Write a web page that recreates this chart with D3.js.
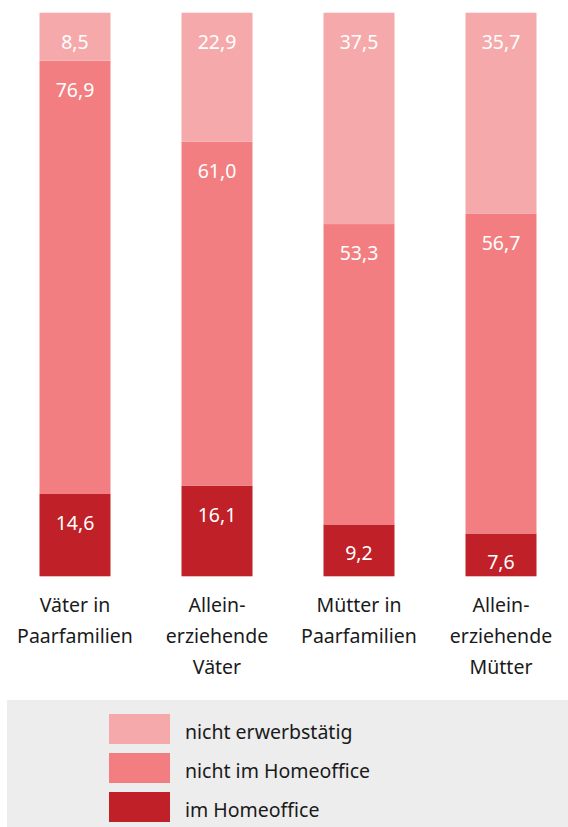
<!DOCTYPE html>
<html>
<head>
<meta charset="utf-8">
<script src="https://d3js.org/d3.v7.min.js"></script>
<style>
  body { margin: 0; background: #fff; }
  text { font-family: "Noto Sans", sans-serif; }
  .inside { font-size: 19.5px; fill: white; text-anchor: middle; }
  .cat { font-size: 19.5px; fill: #1a1a1a; text-anchor: middle; }
  .leg { font-size: 19.5px; fill: #1a1a1a; }
</style>
</head>
<body>
<script>
  // categories (label lines) and values in percent
  let categories = [
    ['Väter in', 'Paarfamilien'],
    ['Allein-', 'erziehende', 'Väter'],
    ['Mütter in', 'Paarfamilien'],
    ['Allein-', 'erziehende', 'Mütter']
  ];
  let imHomeoffice = [14.6, 16.1, 9.2, 7.6];
  let nichtImHomeoffice = [76.9, 61.0, 53.3, 56.7];
  let nichtErwerbstaetig = [8.5, 22.9, 37.5, 35.7];

  let seriesNames = ['im Homeoffice', 'nicht im Homeoffice', 'nicht erwerbstätig'];
  let seriesColors = ['#c02027', '#f27e81', '#f6a9aa'];

  let width = 568, height = 827;
  let svg = d3.select('body').append('svg').attr('width', width).attr('height', height);

  let rows = categories.map((c, i) => ({
    key: i,
    'im Homeoffice': imHomeoffice[i],
    'nicht im Homeoffice': nichtImHomeoffice[i],
    'nicht erwerbstätig': nichtErwerbstaetig[i]
  }));

  let stacked = d3.stack().keys(seriesNames)(rows);

  let x = d3.scaleBand().domain(d3.range(categories.length)).range([4, 572])
            .paddingInner(0.5).paddingOuter(0.25);
  let y = d3.scaleLinear().domain([0, 100]).range([576.3, 12.7]);

  let fmt = v => d3.format('.1f')(v).replace('.', ',');

  let groups = svg.append('g').selectAll('g').data(stacked).enter().append('g')
                  .attr('fill', (d, i) => seriesColors[i]);

  groups.selectAll('rect').data(d => d).enter().append('rect')
        .attr('x', (d, i) => x(i))
        .attr('width', x.bandwidth())
        .attr('y', d => y(d[1]))
        .attr('height', d => y(d[0]) - y(d[1]));

  // value labels near the top of each segment
  groups.selectAll('text').data(d => d.map(p => ({p: p, key: d.key}))).enter().append('text')
        .classed('inside', true)
        .attr('x', (d, i) => x(i) + x.bandwidth() / 2)
        .attr('y', d => y(d.p[1]) + 36)
        .text(d => fmt(d.p.data[d.key]));

  // category labels
  let cat = svg.append('g').selectAll('text').data(categories).enter().append('text')
               .classed('cat', true)
               .attr('x', (d, i) => x(i) + x.bandwidth() / 2)
               .attr('y', 612);
  cat.selectAll('tspan').data(d => d).enter().append('tspan')
     .attr('x', function () { return d3.select(this.parentNode).attr('x'); })
     .attr('dy', (d, i) => i === 0 ? 0 : 31)
     .text(d => d);

  // legend
  svg.append('rect').attr('x', 7).attr('y', 700).attr('width', 561).attr('height', 127).attr('fill', '#ededed');
  let legendOrder = [2, 1, 0];
  let legend = svg.append('g').selectAll('g').data(legendOrder).enter().append('g')
                  .attr('transform', (d, i) => 'translate(109,' + (714 + i * 39) + ')');
  legend.append('rect').attr('width', 61).attr('height', 30).attr('fill', d => seriesColors[d]);
  legend.append('text').classed('leg', true).attr('x', 76).attr('y', 25).text(d => seriesNames[d]);
</script>
</body>
</html>
